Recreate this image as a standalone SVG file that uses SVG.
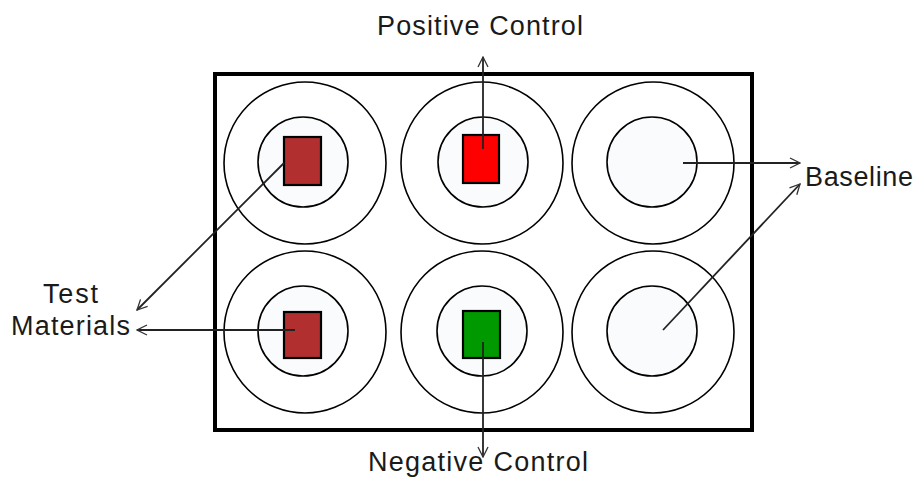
<svg xmlns="http://www.w3.org/2000/svg" width="919" height="478" viewBox="0 0 919 478">
<defs>
<style>
.outer{fill:none;stroke:#000;stroke-width:1.6}
.inner{fill:#f9fbfc;stroke:#000;stroke-width:1.6}
.chip{stroke:#000;stroke-width:2.2}
.conn{stroke:#222;stroke-width:1.8;fill:none}
.lbl{font-family:"Liberation Sans",Arial,sans-serif;font-size:27px;fill:#1a1a1a}
</style>
<marker id="arr" viewBox="0 0 12 12" refX="11" refY="6" markerWidth="12" markerHeight="12" markerUnits="userSpaceOnUse" orient="auto">
<path d="M1,1 L11,6 L1,11" fill="none" stroke="#333" stroke-width="1.3"/>
</marker>
</defs>
<rect x="0" y="0" width="919" height="478" fill="#fff"/>
<g id="plate"><rect x="215" y="74" width="537" height="356" fill="none" stroke="#000" stroke-width="4"/></g>
<g id="well-tl"><circle class="outer" cx="305" cy="163" r="81"/><circle class="inner" cx="303" cy="162" r="45"/><rect class="chip" x="284" y="137" width="37" height="48" fill="#b22f2f"/></g>
<g id="well-tm"><circle class="outer" cx="482" cy="163" r="81"/><circle class="inner" cx="483" cy="162" r="45"/><rect class="chip" x="463" y="135" width="36" height="48" fill="#ff0000"/></g>
<g id="well-tr"><circle class="outer" cx="653" cy="163" r="81"/><circle class="inner" cx="652" cy="162" r="45"/></g>
<g id="well-bl"><circle class="outer" cx="305" cy="332" r="81"/><circle class="inner" cx="303" cy="331" r="45"/><rect class="chip" x="284" y="312" width="37" height="46" fill="#b22f2f"/></g>
<g id="well-bm"><circle class="outer" cx="482" cy="332" r="81"/><circle class="inner" cx="482" cy="331" r="45"/><rect class="chip" x="463" y="311" width="37" height="47" fill="#009a00"/></g>
<g id="well-br"><circle class="outer" cx="653" cy="332" r="81"/><circle class="inner" cx="652" cy="331" r="45"/></g>
<g id="connectors">
<line class="conn" x1="483" y1="149" x2="483" y2="57" marker-end="url(#arr)"/>
<line class="conn" x1="683" y1="163" x2="800" y2="163" marker-end="url(#arr)"/>
<line class="conn" x1="663" y1="330" x2="800" y2="184" marker-end="url(#arr)"/>
<line class="conn" x1="284" y1="163" x2="137" y2="310" marker-end="url(#arr)"/>
<line class="conn" x1="295" y1="330" x2="137" y2="330" marker-end="url(#arr)"/>
<line class="conn" x1="483" y1="342" x2="483" y2="457" marker-end="url(#arr)"/>
</g>
<g id="labels">
<text class="lbl" x="377" y="35" textLength="206" lengthAdjust="spacing">Positive Control</text>
<text class="lbl" x="805" y="186" textLength="108" lengthAdjust="spacing">Baseline</text>
<text class="lbl" x="43" y="303" textLength="55" lengthAdjust="spacing">Test</text>
<text class="lbl" x="11" y="335" textLength="119" lengthAdjust="spacing">Materials</text>
<text class="lbl" x="368" y="471" textLength="220" lengthAdjust="spacing">Negative Control</text>
</g>
</svg>
